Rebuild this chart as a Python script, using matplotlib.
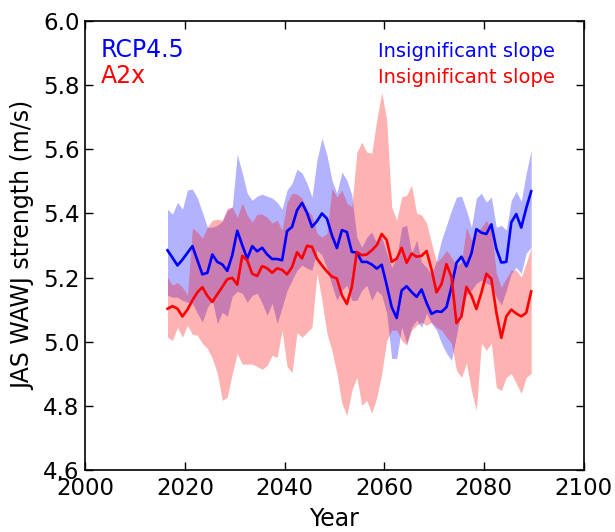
"""JAS WAWJ strength: RCP4.5 vs A2x ensemble spread."""
import matplotlib

matplotlib.use("Agg")
import matplotlib.pyplot as plt
import numpy as np

years = list(range(2016, 2090))

rcp45_mean = [5.285, 5.262, 5.238, 5.256, 5.277, 5.298, 5.254, 5.210, 5.215, 5.272,
              5.249, 5.241, 5.221, 5.270, 5.346, 5.301, 5.259, 5.298, 5.282, 5.293,
              5.272, 5.258, 5.258, 5.254, 5.345, 5.358, 5.410, 5.433, 5.402, 5.358,
              5.376, 5.400, 5.384, 5.332, 5.292, 5.348, 5.342, 5.280, 5.278, 5.249,
              5.249, 5.241, 5.228, 5.240, 5.176, 5.108, 5.074, 5.160, 5.173, 5.155,
              5.140, 5.163, 5.121, 5.087, 5.095, 5.093, 5.108, 5.171, 5.246, 5.265,
              5.235, 5.275, 5.351, 5.340, 5.336, 5.366, 5.290, 5.247, 5.249, 5.372,
              5.398, 5.356, 5.416, 5.469]
rcp45_upper = [5.413, 5.398, 5.435, 5.413, 5.473, 5.476, 5.448, 5.404, 5.357, 5.357,
               5.363, 5.376, 5.410, 5.420, 5.585, 5.526, 5.463, 5.441, 5.454, 5.460,
               5.454, 5.448, 5.435, 5.413, 5.473, 5.494, 5.538, 5.526, 5.494, 5.451,
               5.566, 5.635, 5.582, 5.504, 5.463, 5.529, 5.504, 5.457, 5.326, 5.295,
               5.326, 5.342, 5.307, 5.326, 5.276, 5.232, 5.263, 5.357, 5.363, 5.276,
               5.317, 5.248, 5.232, 5.210, 5.254, 5.317, 5.363, 5.410, 5.451, 5.454,
               5.410, 5.357, 5.448, 5.463, 5.435, 5.451, 5.357, 5.363, 5.348, 5.441,
               5.469, 5.438, 5.526, 5.597]
rcp45_lower = [5.145, 5.139, 5.139, 5.129, 5.123, 5.120, 5.089, 5.061, 5.107, 5.129,
               5.057, 5.092, 5.079, 5.142, 5.157, 5.151, 5.123, 5.145, 5.151, 5.120,
               5.082, 5.120, 5.057, 5.107, 5.160, 5.192, 5.223, 5.239, 5.229, 5.223,
               5.285, 5.270, 5.229, 5.176, 5.129, 5.160, 5.176, 5.129, 5.129, 5.160,
               5.176, 5.129, 5.160, 5.145, 5.089, 4.948, 4.948, 5.045, 4.995, 5.045,
               5.067, 5.045, 5.089, 5.057, 5.036, 4.995, 4.964, 4.942, 5.020, 5.098,
               5.145, 5.160, 5.182, 5.192, 5.182, 5.176, 5.139, 5.114, 5.160, 5.213,
               5.232, 5.213, 5.276, 5.295]

a2x_mean = [5.103, 5.111, 5.103, 5.079, 5.100, 5.129, 5.154, 5.170, 5.143, 5.124,
            5.148, 5.171, 5.195, 5.199, 5.178, 5.268, 5.254, 5.212, 5.205, 5.236,
            5.229, 5.215, 5.229, 5.224, 5.210, 5.233, 5.279, 5.260, 5.299, 5.296,
            5.259, 5.238, 5.219, 5.203, 5.197, 5.145, 5.118, 5.171, 5.280, 5.270,
            5.272, 5.285, 5.301, 5.336, 5.317, 5.249, 5.259, 5.293, 5.246, 5.275,
            5.265, 5.268, 5.283, 5.225, 5.154, 5.180, 5.242, 5.202, 5.058, 5.079,
            5.171, 5.144, 5.102, 5.153, 5.212, 5.196, 5.092, 5.012, 5.079, 5.100,
            5.088, 5.079, 5.090, 5.157]
a2x_upper = [5.201, 5.176, 5.185, 5.170, 5.145, 5.354, 5.342, 5.323, 5.357, 5.379,
             5.382, 5.379, 5.416, 5.420, 5.388, 5.432, 5.395, 5.373, 5.398, 5.398,
             5.388, 5.370, 5.379, 5.348, 5.435, 5.463, 5.460, 5.448, 5.410, 5.395,
             5.338, 5.326, 5.338, 5.479, 5.451, 5.473, 5.432, 5.420, 5.591, 5.622,
             5.591, 5.588, 5.691, 5.778, 5.691, 5.420, 5.379, 5.451, 5.457, 5.488,
             5.401, 5.395, 5.370, 5.307, 5.248, 5.263, 5.285, 5.263, 5.238, 5.248,
             5.357, 5.317, 5.338, 5.357, 5.379, 5.348, 5.214, 5.170, 5.198, 5.223,
             5.223, 5.201, 5.245, 5.295]
a2x_lower = [5.014, 5.004, 5.045, 5.014, 5.051, 5.023, 5.020, 4.995, 4.979, 4.948,
             4.901, 4.817, 4.827, 4.901, 4.964, 4.930, 4.930, 4.930, 4.923, 4.914,
             4.926, 4.958, 4.951, 5.036, 4.923, 4.904, 5.029, 5.014, 5.029, 5.045,
             5.214, 5.129, 5.026, 4.973, 4.901, 4.808, 4.770, 4.848, 4.889, 4.802,
             4.817, 4.777, 4.827, 4.901, 5.004, 5.036, 5.036, 5.004, 4.989, 5.036,
             5.051, 5.061, 5.051, 5.061, 5.045, 5.036, 5.014, 4.995, 4.911, 4.889,
             4.933, 4.848, 4.786, 4.995, 4.973, 4.995, 4.858, 4.848, 4.889, 4.901,
             4.870, 4.839, 4.889, 4.901]

series_names = ["RCP4.5", "A2x"]
series_colors = ["blue", "red"]
slope_labels = ["Insignificant slope", "Insignificant slope"]
x_ticks = [2000, 2020, 2040, 2060, 2080, 2100]
y_ticks = [4.6, 4.8, 5.0, 5.2, 5.4, 5.6, 5.8, 6.0]


def main() -> None:
    # values are mid-year averages
    x = np.array(years) + 0.5

    fig = plt.figure(figsize=(6.15, 5.32), dpi=100)
    ax = fig.add_axes([0.1387, 0.1165, 0.8101, 0.844])

    ax.fill_between(x, rcp45_lower, rcp45_upper, color="blue", alpha=0.3, linewidth=0)
    ax.fill_between(x, a2x_lower, a2x_upper, color="red", alpha=0.3, linewidth=0)
    ax.plot(x, rcp45_mean, color="blue", lw=1.9)
    ax.plot(x, a2x_mean, color="red", lw=1.9)

    ax.set_xlim(2000, 2100)
    ax.set_ylim(4.6, 6.0)
    ax.set_xticks(x_ticks)
    ax.set_yticks(y_ticks)
    ax.set_yticklabels([f"{v:.1f}" for v in y_ticks])
    ax.tick_params(direction="in", top=True, right=True, length=6, width=1,
                   labelsize=16.5)
    ax.tick_params(axis="x", pad=5)
    ax.tick_params(axis="y", pad=4)
    for spine in ax.spines.values():
        spine.set_linewidth(1.2)

    ax.set_xlabel("Year", fontsize=17, labelpad=5)
    ax.set_ylabel("JAS WAWJ strength (m/s)", fontsize=17, labelpad=6)

    rows = [0.92, 0.862]
    for name, color, slope, row in zip(series_names, series_colors, slope_labels, rows):
        ax.text(0.0315, row, name, color=color, fontsize=17,
                transform=ax.transAxes, va="baseline", ha="left")
        ax.text(0.587, row, slope, color=color, fontsize=14,
                transform=ax.transAxes, va="baseline", ha="left")

    fig.savefig("out.png", dpi=100)
    plt.close(fig)


if __name__ == "__main__":
    main()
